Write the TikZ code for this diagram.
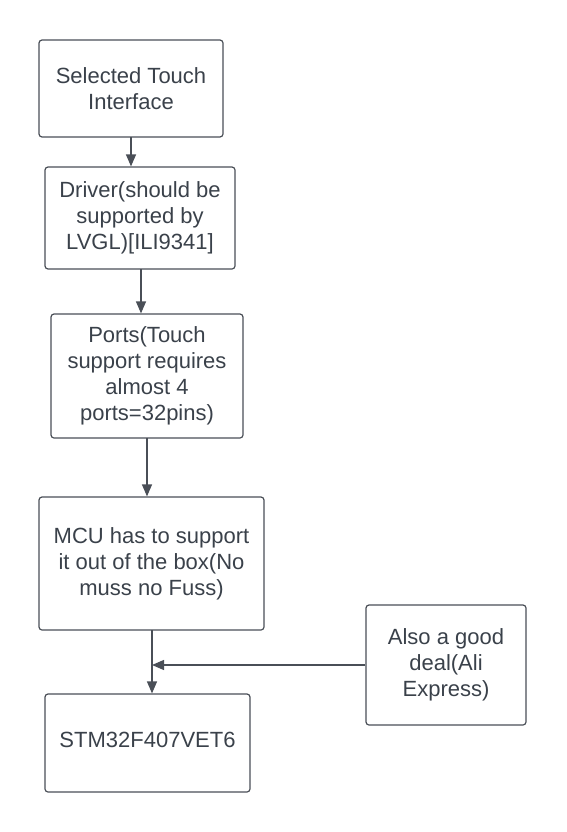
\documentclass[tikz,border=0pt]{standalone}
\usepackage{fontspec}
\setmainfont{Liberation Sans}
\usetikzlibrary{arrows.meta, calc}
\definecolor{MyInk}{HTML}{3A414A}
\definecolor{MyLine}{HTML}{4A4F57}

\begin{document}
\begin{tikzpicture}[x=1pt, y=-1pt,
	box/.style={draw=MyLine, line width=1.2pt, rounded corners=3pt, align=center, text=MyInk,
		font=\fontsize{22}{26}\selectfont, inner sep=0pt},
	link/.style={MyLine, line width=1.2pt, -{Triangle[length=12pt, width=10pt]}}]
	\useasboundingbox (0, 0) rectangle (567, 832);
	
	\node[box, minimum width=184, minimum height=97] (touch) at (131, 88.5) {Selected Touch\\Interface};
	\node[box, minimum width=190, minimum height=102] (driver) at (140, 218) {Driver(should be\\supported by\\LVGL)[ILI9341]};
	\node[box, minimum width=192, minimum height=124] (ports) at (147, 376) {Ports(Touch\\support requires\\almost 4\\ports=32pins)};
	\node[box, minimum width=225, minimum height=133] (mcu) at (151.5, 563.5) {MCU has to support\\it out of the box(No\\muss no Fuss)};
	\node[box, minimum width=160, minimum height=120] (deal) at (446, 665) {Also a good\\deal(Ali\\Express)};
	\node[box, minimum width=205, minimum height=98] (stm) at (147.5, 743) {};
	\node[text=MyInk, font=\fontsize{22}{26}\selectfont] (stmtext) at (147.5, 740) {STM32F407VET6};
	
	\coordinate (touchout) at (131, 137);
	\coordinate (driverout) at (141, 269);
	\coordinate (portsout) at (147, 438);
	\coordinate (mcuout) at (152, 630);
	\coordinate (join) at (152, 665);
	
	\draw[link] (touchout) -- (touchout |- driver.north);
	\draw[link] (driverout) -- (driverout |- ports.north);
	\draw[link] (portsout) -- (portsout |- mcu.north);
	\draw[link] (mcuout) -- (mcuout |- stm.north);
	
	% side input joins the main line
	\draw[link] (deal.west) -- (join);
\end{tikzpicture}
\end{document}
